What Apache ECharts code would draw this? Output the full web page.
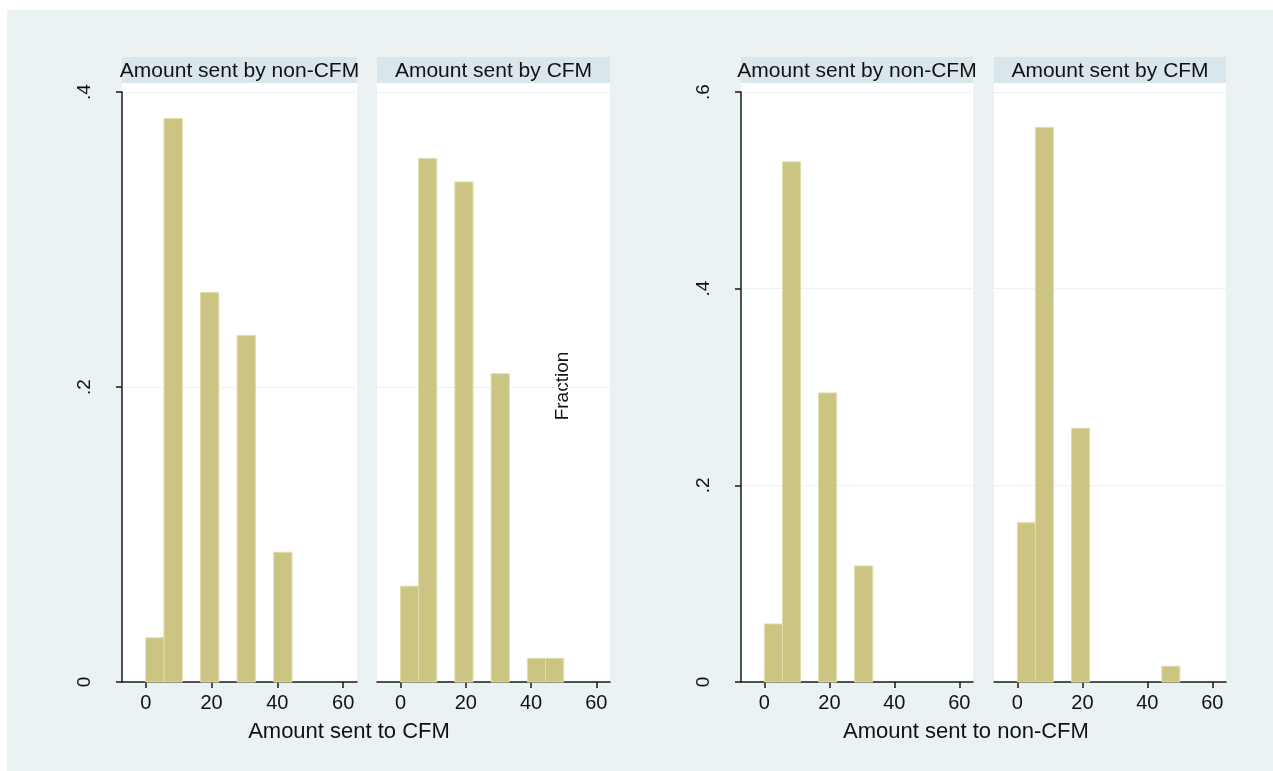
<!DOCTYPE html>
<html>
<head>
<meta charset="utf-8">
<script src="https://cdn.jsdelivr.net/npm/echarts@6/dist/echarts.min.js"></script>
<style>
  html, body { margin: 0; padding: 0; background: #ffffff; overflow: hidden; width: 1273px; height: 771px; }
  #bg { position: absolute; left: 7px; top: 10px; width: 1266px; height: 761px; background: #EAF2F3; }
  #chart { position: absolute; left: 0; top: 0; width: 1273px; height: 771px; }
</style>
</head>
<body>
<div id="bg"></div>
<div id="chart"></div>
<script>
// Histogram bin edges (9 equal bins over 0..50)
const binEdges = [0, 5.556, 11.111, 16.667, 22.222, 27.778, 33.333, 38.889, 44.444, 50];

// Fraction of observations in each bin
const sentToCfmByNonCfm    = [0.030, 0.382, 0, 0.264, 0, 0.235, 0, 0.088, 0];
const sentToCfmByCfm       = [0.065, 0.355, 0, 0.339, 0, 0.209, 0, 0.016, 0.016];
const sentToNonCfmByNonCfm = [0.059, 0.529, 0, 0.294, 0, 0.118, 0, 0, 0];
const sentToNonCfmByCfm    = [0.162, 0.564, 0, 0.258, 0, 0, 0, 0, 0.016];

// Tick labels
const xTicks = [0, 20, 40, 60];
const yTicksLeft = [0, 0.2, 0.4];
const yTicksRight = [0, 0.2, 0.4, 0.6];

// Panel titles and axis titles
const panelTitles = ['Amount sent by non-CFM', 'Amount sent by CFM', 'Amount sent by non-CFM', 'Amount sent by CFM'];
const groupTitles = ['Amount sent to CFM', 'Amount sent to non-CFM'];
const yTitle = 'Fraction';

const panelValues = [sentToCfmByNonCfm, sentToCfmByCfm, sentToNonCfmByNonCfm, sentToNonCfmByCfm];

// Layout of the four plot regions
const panels = [
  { left: 122, width: 235, yMax: 0.4, yTicks: yTicksLeft, showY: true },
  { left: 377, width: 233, yMax: 0.4, yTicks: yTicksLeft, showY: false },
  { left: 741, width: 232, yMax: 0.6, yTicks: yTicksRight, showY: true },
  { left: 994, width: 232, yMax: 0.6, yTicks: yTicksRight, showY: false }
];
const plotTop = 92, plotBottom = 682, headerTop = 57, headerBottom = 83;

const FONT = '"Liberation Sans", Arial, Helvetica, sans-serif';
const BAR_FILL = '#CBC483';
const BAR_EDGE = '#E2DCAC';
const AXIS_COLOR = '#1a1a1a';
const GRID_LINE = '#EAF2F3';
const HEADER_FILL = '#D9E6EB';

function yLabel(v) {
  if (v === 0) return '0';
  return String(v).replace(/^0/, '');
}

const grids = [], xAxes = [], yAxes = [], series = [], graphics = [];

panels.forEach((p, i) => {
  grids.push({
    left: p.left, top: plotTop, width: p.width, height: plotBottom - plotTop,
    show: true, backgroundColor: '#ffffff', borderWidth: 0
  });
  xAxes.push({
    type: 'value', gridIndex: i, min: -7.2, max: 64.2,
    axisLine: { show: true, onZero: false, lineStyle: { color: AXIS_COLOR, width: 1.5 } },
    axisTick: { show: true, length: 6, customValues: xTicks, lineStyle: { color: AXIS_COLOR, width: 1.5 } },
    axisLabel: { show: true, customValues: xTicks, margin: 11, fontSize: 20, color: '#111', fontFamily: FONT },
    splitLine: { show: false }
  });
  yAxes.push({
    type: 'value', gridIndex: i, min: 0, max: p.yMax, interval: 0.2,
    axisLine: { show: p.showY, onZero: false, lineStyle: { color: AXIS_COLOR, width: 1.5 } },
    axisTick: { show: p.showY, length: 6, lineStyle: { color: AXIS_COLOR, width: 1.5 } },
    axisLabel: {
      show: p.showY, rotate: 90, margin: 28, fontSize: 19, color: '#111', fontFamily: FONT,
      formatter: yLabel
    },
    splitLine: { show: true, lineStyle: { color: GRID_LINE, width: 1 } }
  });

  const data = [];
  panelValues[i].forEach((v, b) => {
    if (v > 0) data.push([binEdges[b], binEdges[b + 1], v]);
  });
  series.push({
    type: 'custom', xAxisIndex: i, yAxisIndex: i,
    encode: { x: [0, 1], y: 2 },
    data: data,
    renderItem: function (params, api) {
      const lo = api.coord([api.value(0), 0]);
      const hi = api.coord([api.value(1), api.value(2)]);
      return {
        type: 'rect',
        shape: { x: lo[0], y: hi[1], width: hi[0] - lo[0], height: lo[1] - hi[1] },
        style: { fill: BAR_FILL, stroke: BAR_EDGE, lineWidth: 1 }
      };
    }
  });

  // Panel header band and the white strip between it and the plot
  graphics.push({
    type: 'rect', shape: { x: p.left, y: headerTop, width: p.width, height: headerBottom - headerTop },
    style: { fill: HEADER_FILL }
  });
  graphics.push({
    type: 'rect', shape: { x: p.left, y: headerBottom, width: p.width, height: plotTop - headerBottom },
    style: { fill: '#ffffff' }
  });
  graphics.push({
    type: 'text', x: p.left + p.width / 2, y: (headerTop + headerBottom) / 2 + 1,
    style: { text: panelTitles[i], fill: '#111', font: '21px ' + FONT, textAlign: 'center', textVerticalAlign: 'middle' }
  });
});

// Group x-axis titles
graphics.push({
  type: 'text', x: 349, y: 732,
  style: { text: groupTitles[0], fill: '#111', font: '22px ' + FONT, textAlign: 'center', textVerticalAlign: 'middle' }
});
graphics.push({
  type: 'text', x: 966, y: 732,
  style: { text: groupTitles[1], fill: '#111', font: '22px ' + FONT, textAlign: 'center', textVerticalAlign: 'middle' }
});
// Shared y-axis title
graphics.push({
  type: 'text', x: 563, y: 386, rotation: Math.PI / 2,
  style: { text: yTitle, fill: '#111', font: '19px ' + FONT, textAlign: 'center', textVerticalAlign: 'middle' }
});

const chart = echarts.init(document.getElementById('chart'), null, { renderer: 'canvas' });
chart.setOption({
  backgroundColor: 'transparent',
  animation: false,
  grid: grids,
  xAxis: xAxes,
  yAxis: yAxes,
  series: series,
  graphic: { elements: graphics }
});
</script>
</body>
</html>
